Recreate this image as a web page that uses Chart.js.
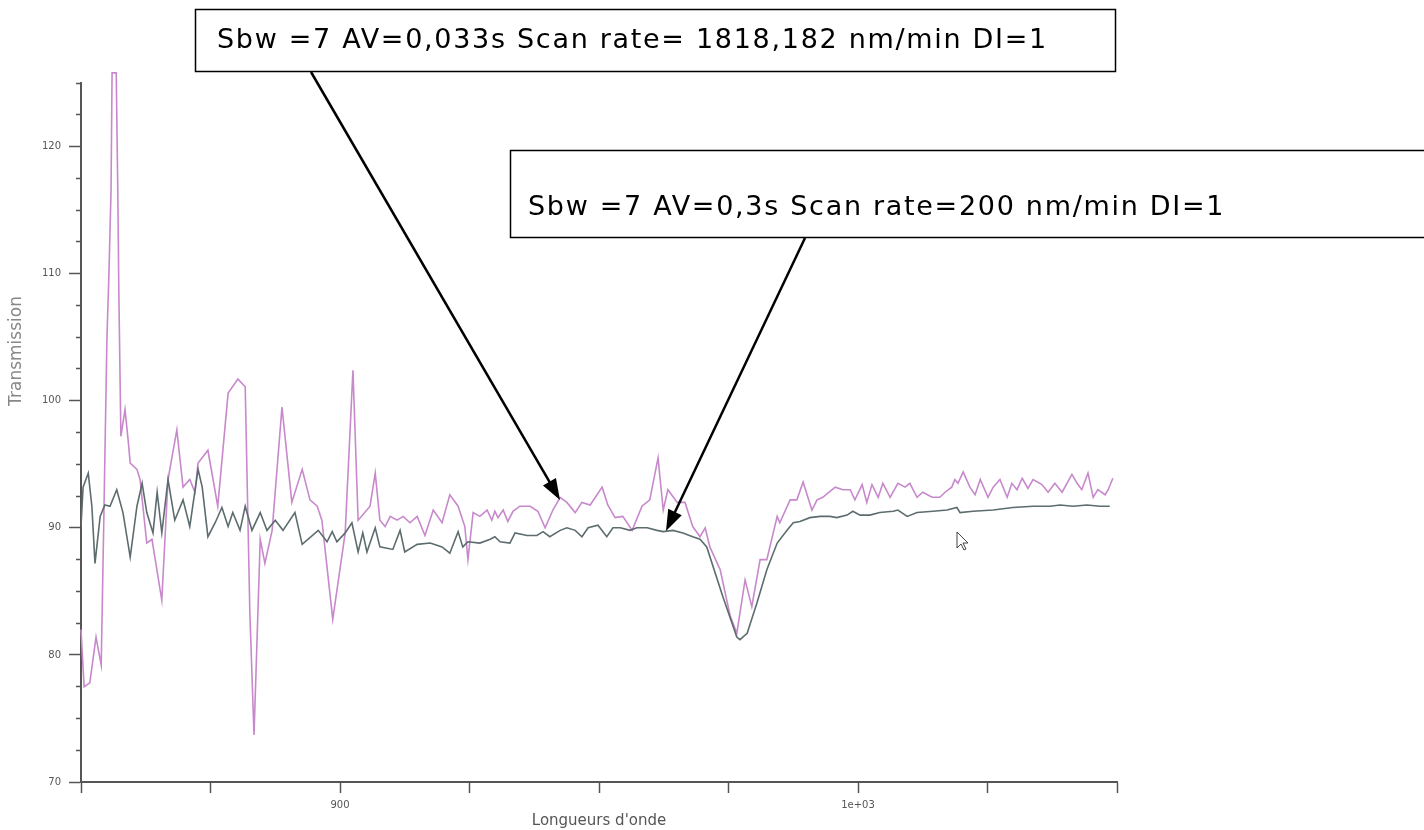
<!DOCTYPE html>
<html>
<head>
<meta charset="utf-8">
<script src="https://cdn.jsdelivr.net/npm/chart.js@4.4.1/dist/chart.umd.min.js"></script>
<style>
  html, body { margin: 0; padding: 0; background: #fff; }
  #wrap { position: relative; width: 1424px; height: 830px; }
</style>
</head>
<body>
<div id="wrap"><canvas id="spectre"></canvas></div>
<script>
// AV = 0,033s (violet, bruité)
const fastX = [850.0,850.6,851.7,852.9,853.9,854.4,855.0,855.4,855.8,856.0,
  856.8,857.1,857.3,857.7,858.5,859.1,859.5,860.8,861.4,862.7,
  863.7,865.6,866.8,868.5,869.7,871.0,872.0,872.6,874.5,876.4,
  878.4,880.3,881.7,882.6,883.4,884.6,885.5,886.9,888.8,890.7,
  892.7,894.2,895.6,896.5,898.6,901.0,902.5,903.5,905.8,906.8,
  907.7,908.7,909.7,911.0,912.2,913.5,914.9,916.4,918.0,919.7,
  921.2,922.8,924.1,924.7,925.7,927.0,928.4,929.3,929.9,930.5,
  931.5,932.4,933.4,934.7,936.7,938.2,939.6,941.1,942.5,943.8,
  945.4,946.7,948.3,950.6,951.7,953.1,954.6,956.4,958.3,959.8,
  961.4,962.4,963.3,965.1,966.6,968.1,969.5,970.5,971.4,973.4,
  975.3,976.6,978.2,979.5,981.1,982.4,984.4,984.9,986.9,988.2,
  989.4,991.1,992.1,993.2,995.6,997.1,998.5,999.4,1000.8,1001.7,
  1002.7,1003.9,1004.8,1006.2,1007.7,1009.1,1010.0,1011.4,1012.5,1014.3,
  1015.8,1016.8,1018.1,1018.7,1019.3,1020.3,1021.6,1022.6,1023.6,1025.1,
  1026.1,1027.4,1028.8,1029.7,1030.7,1031.7,1032.8,1033.8,1035.5,1036.7,
  1038.0,1039.4,1041.3,1042.3,1043.2,1044.4,1045.4,1046.3,1047.7,1048.3,
  1049.2];
const fastY = [82.0,77.5,77.8,81.4,79.2,90.6,104.8,110.1,116.6,125.8,
  125.8,116.6,108.7,97.2,99.3,96.9,95.1,94.6,93.8,88.8,
  89.1,84.3,93.8,97.7,93.2,93.8,92.8,95.1,96.1,91.7,
  100.6,101.7,101.1,83.3,73.7,89.1,87.2,89.8,99.5,92.0,
  94.6,92.2,91.7,90.6,82.8,89.6,102.4,90.6,91.7,94.3,
  90.6,90.1,90.9,90.6,90.9,90.4,90.9,89.4,91.4,90.4,
  92.6,91.7,90.1,87.5,91.2,90.9,91.4,90.6,91.3,90.8,
  91.4,90.5,91.3,91.7,91.7,91.3,90.0,91.4,92.4,92.0,
  91.2,92.0,91.8,93.2,91.8,90.8,90.9,89.8,91.7,92.2,
  95.5,91.4,93.0,92.0,92.0,90.1,89.3,90.0,88.5,86.7,
  83.1,81.7,85.9,83.8,87.5,87.5,90.9,90.4,92.2,92.2,
  93.6,91.4,92.2,92.4,93.2,93.0,93.0,92.2,93.4,92.0,
  93.4,92.4,93.5,92.4,93.5,93.2,93.5,92.4,92.8,92.4,
  92.4,92.8,93.2,93.8,93.5,94.4,93.2,92.6,93.8,92.4,
  93.2,93.8,92.4,93.5,93.0,93.9,93.1,93.8,93.4,92.8,
  93.5,92.8,94.2,93.5,93.0,94.3,92.4,93.0,92.6,93.0,
  93.9];

// AV = 0,3s (gris, lissé)
const slowX = [850.0,850.4,851.4,852.1,852.7,853.7,854.6,855.6,856.9,858.1,
  859.5,860.8,861.8,862.7,863.9,864.7,865.6,866.8,868.1,869.7,
  871.0,872.6,873.4,874.5,875.9,877.2,878.4,879.3,880.7,881.7,
  883.0,884.6,885.9,887.5,889.0,891.3,892.7,895.8,897.5,898.5,
  899.4,901.0,902.3,903.5,904.4,905.2,906.8,907.7,910.2,911.6,
  912.5,914.9,917.4,919.7,921.2,922.8,923.7,924.7,927.0,929.0,
  929.9,930.9,932.8,933.8,936.1,938.0,939.2,940.5,942.5,943.8,
  945.4,946.7,947.9,949.8,951.5,952.7,954.1,956.0,957.3,959.3,
  961.2,962.4,964.3,966.2,968.1,969.5,970.8,973.9,976.6,977.2,
  978.6,980.5,982.4,984.4,986.3,987.5,988.8,990.7,992.7,994.6,
  995.9,997.9,999.0,1000.4,1002.3,1004.2,1006.8,1007.7,1009.5,1011.4,
  1014.5,1017.2,1019.1,1019.7,1022.2,1026.1,1029.9,1033.8,1037.1,1039.0,
  1041.5,1044.2,1046.7,1048.6];
const slowY = [90.1,93.2,94.3,91.7,87.2,90.9,91.8,91.7,93.0,91.2,
  87.7,91.7,93.5,91.2,89.6,92.8,89.6,93.8,90.6,92.2,
  90.1,94.6,93.2,89.3,90.4,91.6,90.1,91.2,89.8,91.7,
  89.8,91.2,89.8,90.6,89.8,91.2,88.7,89.8,88.9,89.7,
  88.9,89.6,90.4,88.1,89.6,88.1,90.0,88.5,88.3,89.8,
  88.1,88.7,88.8,88.5,88.0,89.7,88.5,88.9,88.8,89.1,
  89.3,88.9,88.8,89.6,89.4,89.4,89.7,89.3,89.8,90.0,
  89.8,89.3,90.0,90.2,89.3,90.0,90.0,89.8,90.0,90.0,
  89.8,89.7,89.8,89.6,89.3,89.1,88.5,84.6,81.4,81.2,
  81.7,84.1,86.7,88.8,89.8,90.4,90.5,90.8,90.9,90.9,
  90.8,91.0,91.3,91.0,91.0,91.2,91.3,91.4,90.9,91.2,
  91.3,91.4,91.6,91.2,91.3,91.4,91.6,91.7,91.7,91.8,
  91.7,91.8,91.7,91.7];

const xLabelValues = [900, 1000];
const xLabelTexts = ['900', '1e+03'];
const yLabelValues = [70, 80, 90, 100, 110, 120];
const xTitle = "Longueurs d'onde";
const yTitle = 'Transmission';
const noteFast = 'Sbw =7 AV=0,033s Scan rate= 1818,182 nm/min DI=1';
const noteSlow = 'Sbw =7 AV=0,3s Scan rate=200 nm/min DI=1';

const toPoints = (xs, ys) => xs.map((x, i) => ({ x: x, y: ys[i] }));

function arrow(c, x1, y1, x2, y2) {
  const a = Math.atan2(y2 - y1, x2 - x1);
  const len = 21, half = 7.5;
  c.beginPath();
  c.moveTo(x1, y1);
  c.lineTo(x2 - Math.cos(a) * len * 0.8, y2 - Math.sin(a) * len * 0.8);
  c.stroke();
  c.beginPath();
  c.moveTo(x2, y2);
  c.lineTo(x2 - Math.cos(a) * len - Math.sin(a) * half, y2 - Math.sin(a) * len + Math.cos(a) * half);
  c.lineTo(x2 - Math.cos(a) * len + Math.sin(a) * half, y2 - Math.sin(a) * len - Math.cos(a) * half);
  c.closePath();
  c.fill();
}

// cadres de texte, flèches et titre vertical (coupé au bord comme la capture)
const notes = {
  id: 'notes',
  afterDraw(chart) {
    const c = chart.ctx;
    c.save();
    c.save();
    c.translate(21, 351);
    c.rotate(-Math.PI / 2);
    c.font = '17px "DejaVu Sans"';
    c.fillStyle = '#888';
    c.textAlign = 'center';
    c.textBaseline = 'alphabetic';
    c.fillText(yTitle, 0, 0);
    c.restore();

    c.strokeStyle = '#000';
    c.fillStyle = '#000';
    c.lineWidth = 1.5;
    c.fillStyle = '#fff';
    c.fillRect(195, 9, 920, 62);
    c.fillRect(510, 150, 920, 87);
    c.strokeRect(195.5, 9.5, 920, 62);
    c.strokeRect(510.5, 150.5, 920, 87);

    c.fillStyle = '#000';
    c.font = '27px "DejaVu Sans"';
    c.letterSpacing = '1.7px';
    c.textAlign = 'left';
    c.textBaseline = 'alphabetic';
    c.fillText(noteFast, 217, 48);
    c.fillText(noteSlow, 528, 215);
    c.letterSpacing = '0px';

    c.lineWidth = 2.5;
    arrow(c, 311, 72, 560, 500);
    arrow(c, 805, 238, 666, 531);

    // pointeur de souris
    c.translate(957, 532);
    c.beginPath();
    c.moveTo(0, 0); c.lineTo(0, 16); c.lineTo(4, 12); c.lineTo(7, 18);
    c.lineTo(9, 17); c.lineTo(6, 11); c.lineTo(11, 11); c.closePath();
    c.fillStyle = '#fff';
    c.fill();
    c.lineWidth = 1;
    c.strokeStyle = '#444';
    c.stroke();
    c.restore();
  }
};

const ctx = document.getElementById('spectre').getContext('2d');
const chart = new Chart(ctx, {
  type: 'line',
  data: {
    datasets: [{
      label: 'AV=0,3s',
      data: toPoints(slowX, slowY),
      borderColor: '#5d6c6e',
      borderWidth: 1.6,
      pointRadius: 0,
      tension: 0
    }, {
      label: 'AV=0,033s',
      data: toPoints(fastX, fastY),
      borderColor: '#c888cc',
      borderWidth: 1.6,
      pointRadius: 0,
      tension: 0,
      clip: false
    }]
  },
  options: {
    responsive: true,
    maintainAspectRatio: false,
    animation: false,
    layout: { padding: { left: 0, top: 83, right: 307, bottom: 0 } },
    plugins: {
      legend: { display: false },
      tooltip: { enabled: false }
    },
    scales: {
      x: {
        type: 'linear',
        min: 850,
        max: 1050,
        afterFit: s => { s.height = 48; },
        border: { color: '#555', width: 2 },
        grid: { drawOnChartArea: false, tickLength: 11, tickColor: '#555', tickWidth: 1.5 },
        ticks: {
          stepSize: 25,
          autoSkip: false,
          maxRotation: 0,
          padding: 6,
          color: '#555',
          font: { size: 10, family: 'DejaVu Sans' },
          callback: v => {
            const i = xLabelValues.indexOf(v);
            return i < 0 ? '' : xLabelTexts[i];
          }
        },
        title: {
          display: true,
          text: xTitle,
          color: '#555',
          font: { size: 15, family: 'DejaVu Sans' },
          padding: { top: 0, bottom: 0 }
        }
      },
      y: {
        type: 'linear',
        min: 70,
        max: 125,
        afterFit: s => { s.width = 81; },
        border: { color: '#555', width: 2 },
        grid: {
          drawOnChartArea: false,
          tickLength: 12,
          tickColor: '#555',
          tickWidth: 1.5,
          // petites graduations : on ne trace que les 5 px près de l'axe
          tickBorderDash: c => (c.tick && c.tick.value % 10 === 0) ? [] : [0, 7, 5, 100]
        },
        ticks: {
          stepSize: 2.5,
          autoSkip: false,
          padding: 8,
          color: '#555',
          font: { size: 10, family: 'DejaVu Sans' },
          callback: v => yLabelValues.includes(v) ? String(v) : ''
        }
      }
    }
  },
  plugins: [notes]
});
</script>
</body>
</html>
